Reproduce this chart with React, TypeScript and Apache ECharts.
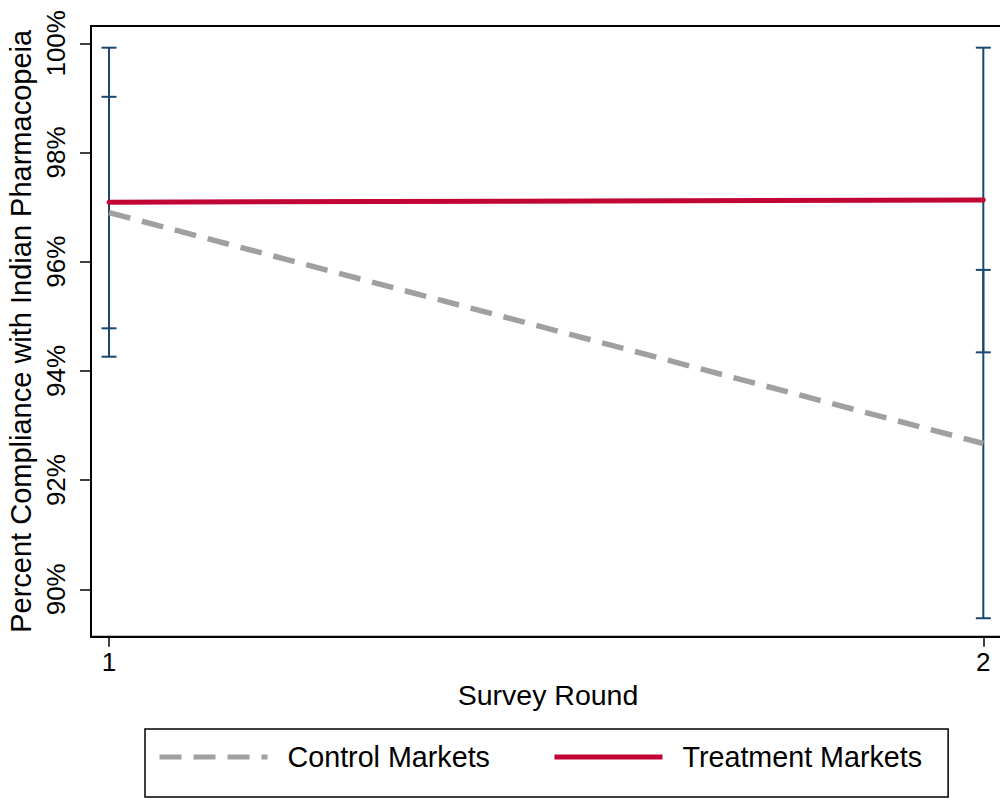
import React, { useEffect, useRef } from "react";
import * as echarts from "echarts";

const rounds = [1, 2];
const controlMeans = [96.9, 92.67];
const treatmentMeans = [97.09, 97.13];
const controlLow = [94.78, 89.47];
const controlHigh = [99.02, 95.85];
const treatmentLow = [94.26, 94.34];
const treatmentHigh = [99.92, 99.92];
const yTicks = [90, 92, 94, 96, 98, 100];
const xTicks = [1, 2];

const FONT = "'Liberation Sans', Arial, Helvetica, sans-serif";
const NAVY = "#1a476f";
const RED = "#c10534";
const GRAY = "#a0a0a0";

export default function App() {
  const ref = useRef<HTMLDivElement>(null);
  useEffect(() => {
    if (!ref.current) return;
    const chart = echarts.init(ref.current, undefined, { renderer: "svg" });

    const ciData: number[][] = [];
    rounds.forEach((r, i) => {
      ciData.push([r, treatmentLow[i], treatmentHigh[i]]);
      ciData.push([r, controlLow[i], controlHigh[i]]);
    });

    const renderItem = (params: any, api: any) => {
      const x = api.value(0);
      const lo = api.coord([x, api.value(1)]);
      const hi = api.coord([x, api.value(2)]);
      const hw = 7.5;
      const style = { stroke: NAVY, lineWidth: 2 };
      return {
        type: "group",
        children: [
          { type: "line", shape: { x1: lo[0], y1: lo[1], x2: hi[0], y2: hi[1] }, style },
          { type: "line", shape: { x1: lo[0] - hw, y1: lo[1], x2: lo[0] + hw, y2: lo[1] }, style },
          { type: "line", shape: { x1: hi[0] - hw, y1: hi[1], x2: hi[0] + hw, y2: hi[1] }, style },
        ],
      };
    };

    chart.setOption({
      animation: false,
      backgroundColor: "#ffffff",
      textStyle: { fontFamily: FONT },
      grid: {
        left: 91,
        top: 26,
        width: 914,
        height: 610.7,
        show: true,
        borderColor: "#000",
        borderWidth: 2,
        containLabel: false,
        outerBoundsMode: "none",
      },
      xAxis: {
        type: "value",
        min: 0.9794,
        max: 2.0248,
        name: "Survey Round",
        nameLocation: "middle",
        nameGap: 44,
        nameTextStyle: { fontSize: 28.5, color: "#000", fontFamily: FONT },
        axisLine: { show: true, lineStyle: { color: "#000", width: 2 } },
        axisTick: { show: true, length: 10, lineStyle: { color: "#000", width: 1.5 }, customValues: xTicks },
        axisLabel: { fontSize: 26, color: "#000", margin: 12, fontFamily: FONT, customValues: xTicks },
        splitLine: { show: false },
      },
      yAxis: {
        type: "value",
        min: 89.132,
        max: 100.317,
        name: "Percent Compliance with Indian Pharmacopeia",
        nameLocation: "middle",
        nameGap: 54,
        nameTextStyle: { fontSize: 29, color: "#000", fontFamily: FONT },
        axisLine: { show: true, lineStyle: { color: "#000", width: 2 } },
        axisTick: { show: true, length: 11, lineStyle: { color: "#000", width: 1.5 }, customValues: yTicks },
        axisLabel: {
          fontSize: 26,
          color: "#000",
          rotate: 90,
          margin: 22,
          fontFamily: FONT,
          customValues: yTicks,
          formatter: (v: number) => `${v}%`,
        },
        splitLine: { show: false },
      },
      legend: {
        left: 145,
        top: 729,
        orient: "horizontal",
        data: ["Control Markets", "Treatment Markets"],
        itemWidth: 108,
        itemHeight: 20,
        itemGap: 62,
        padding: [13, 26, 25, 12],
        borderColor: "#000",
        borderWidth: 1.5,
        itemStyle: { color: "transparent", opacity: 0, borderWidth: 0 },
        lineStyle: { width: 5, cap: "butt" },
        textStyle: { fontSize: 28.7, color: "#000", fontFamily: FONT, lineHeight: 30, padding: [0, 0, 0, 15] },
      },
      series: [
        {
          name: "CI",
          type: "custom",
          renderItem,
          data: ciData,
          z: 1,
          silent: true,
        },
        {
          name: "Control Markets",
          type: "line",
          data: rounds.map((r, i) => [r, controlMeans[i]]),
          symbol: "none",
          lineStyle: { color: GRAY, width: 5.5, type: [22, 12] },
          itemStyle: { color: GRAY },
          z: 3,
        },
        {
          name: "Treatment Markets",
          type: "line",
          data: rounds.map((r, i) => [r, treatmentMeans[i]]),
          symbol: "none",
          lineStyle: { color: RED, width: 5, cap: "round" },
          itemStyle: { color: RED },
          z: 4,
        },
      ],
    });
    return () => chart.dispose();
  }, []);
  return (
    <div
      ref={ref}
      style={{ position: "fixed", left: 0, top: 0, width: 1000, height: 799, background: "#fff" }}
    />
  );
}
